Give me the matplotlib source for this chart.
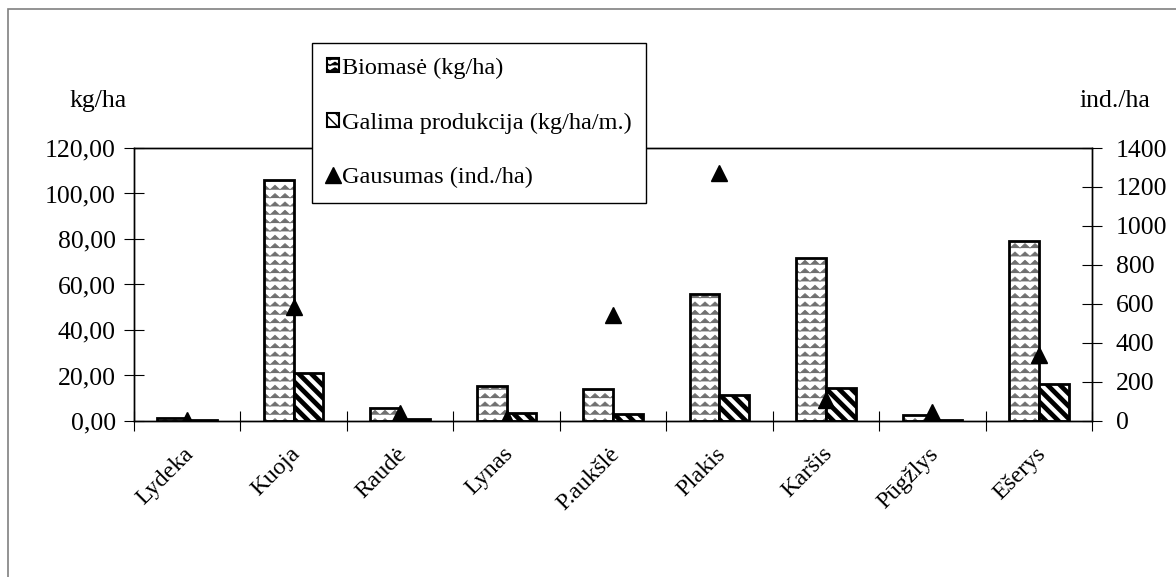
import warnings
import numpy as np
import matplotlib
matplotlib.use("Agg")
import matplotlib.pyplot as plt
import matplotlib.hatch as mhatch
import matplotlib.transforms as mtransforms
from matplotlib.path import Path
from matplotlib.patches import Patch, Rectangle
from matplotlib.lines import Line2D
from matplotlib.ticker import FuncFormatter, MultipleLocator

warnings.filterwarnings("ignore")

# duomenys
zuvys = ["Lydeka", "Kuoja", "Raudė", "Lynas", "P.aukšlė", "Plakis", "Karšis", "Pūgžlys", "Ešerys"]
biomase = [1.5, 106.0, 5.8, 15.4, 14.2, 55.7, 71.5, 2.5, 79.3]
produkcija = [0.3, 21.2, 1.0, 3.4, 2.9, 11.3, 14.4, 0.4, 16.1]
gausumas = [6, 586, 41, 17, 544, 1270, 108, 48, 338]
legend_labels = ["Biomasė (kg/ha)", "Galima produkcija (kg/ha/m.)", "Gausumas (ind./ha)"]


# wavy hatch like the excel pattern, drawn with '~'
class WaveHatch(mhatch.HatchPatternBase):
    def __init__(self, hatch, density):
        self.num_rows = int(hatch.count('~') * density)
        self.num_waves = 10
        self.pts = 2 * self.num_waves + 1
        self.num_vertices = self.num_rows * self.pts

    def set_vertices_and_codes(self, vertices, codes):
        rows = np.linspace(0, 1, self.num_rows, endpoint=False) + 0.5 / self.num_rows
        xs = np.linspace(0, 1, self.pts)
        amp = 0.27 / self.num_rows
        offs = np.where(np.arange(self.pts) % 2 == 0, -amp, amp)
        for i, y in enumerate(rows):
            s = i * self.pts
            vertices[s:s + self.pts, 0] = xs
            vertices[s:s + self.pts, 1] = y + offs
            codes[s:s + self.pts] = Path.LINETO
            codes[s] = Path.MOVETO


# thick "\" stripes, a bit denser than the built-in one, drawn with 'd'
class StripeHatch(mhatch.HatchPatternBase):
    def __init__(self, hatch, density):
        self.num_lines = int(hatch.count('d') * 16)
        self.num_vertices = (self.num_lines + 1) * 2 if self.num_lines else 0

    def set_vertices_and_codes(self, vertices, codes):
        steps = np.linspace(-0.5, 0.5, self.num_lines + 1)
        vertices[0::2, 0] = steps
        vertices[0::2, 1] = 1.0 + steps
        vertices[1::2, 0] = 1.0 + steps
        vertices[1::2, 1] = steps
        codes[0::2] = Path.MOVETO
        codes[1::2] = Path.LINETO


mhatch._hatch_types.append(WaveHatch)
mhatch._hatch_types.append(StripeHatch)

plt.rcParams['font.family'] = ['Liberation Serif', 'DejaVu Serif']
plt.rcParams['font.size'] = 17.5

fig = plt.figure(figsize=(11.76, 5.77), dpi=100)
ax = fig.add_axes([0.1139, 0.2704, 0.8147, 0.4731])
ax2 = ax.twinx()

x = np.arange(len(zuvys))
w = 0.28

plt.rcParams['hatch.linewidth'] = 0.55
ax.bar(x - w / 2, biomase, w, color='white', edgecolor='#707070', linewidth=0, hatch='~~')
ax.bar(x - w / 2, biomase, w, fill=False, edgecolor='black', linewidth=2)
plt.rcParams['hatch.linewidth'] = 3.4
prod = ax.bar(x + w / 2, produkcija, w, color='white', edgecolor='black', linewidth=2, hatch='d')
for p in prod:
    if hasattr(p, 'set_hatch_linewidth'):
        p.set_hatch_linewidth(3.4)

ax2.plot(x, gausumas, linestyle='none', marker='^', color='black', markersize=12)

ax.set_xlim(-0.5, len(zuvys) - 0.5)
ax.set_ylim(0, 120)
ax2.set_ylim(0, 1400)

ax.set_xticks(np.arange(-0.5, len(zuvys), 1))
ax.set_xticks(x, minor=True)
ax.set_xticklabels(zuvys, minor=True, rotation=45, ha='right', rotation_mode='anchor')
ax.tick_params(axis='x', which='major', direction='inout', length=14, labelbottom=False)
ax.tick_params(axis='x', which='minor', length=0, pad=16)
shift = mtransforms.ScaledTranslation(-4 / 100, 0, fig.dpi_scale_trans)
for lab in ax.get_xticklabels(minor=True):
    lab.set_transform(lab.get_transform() + shift)

ax.yaxis.set_major_locator(MultipleLocator(20))
ax.yaxis.set_major_formatter(FuncFormatter(lambda v, pos: f"{v:.2f}".replace('.', ',')))
ax.tick_params(axis='y', direction='inout', length=14, pad=6, labelsize=18.5)
ax2.yaxis.set_major_locator(MultipleLocator(200))
ax2.tick_params(axis='y', direction='inout', length=14, pad=10, labelsize=18.5)

for a in (ax, ax2):
    for sp in a.spines.values():
        sp.set_linewidth(1)
        sp.set_color('black')

fig.text(70 / 1176, 1 - 101 / 577, "kg/ha", ha='left', va='center', fontsize=18.5)
fig.text(1079 / 1176, 1 - 101 / 577, "ind./ha", ha='left', va='center', fontsize=18.5)

fig.patches.append(Rectangle((8 / 1176, -0.1), 1.2, 1.1 - 9 / 577, transform=fig.transFigure,
                             fill=False, edgecolor='#808080', linewidth=1.2, figure=fig))

plt.rcParams['hatch.linewidth'] = 1.0
handles = [Patch(facecolor='white', edgecolor='black', linewidth=1.5, hatch='~~~'),
           Patch(facecolor='white', edgecolor='black', linewidth=1.5, hatch='\\\\\\'),
           Line2D([], [], linestyle='none', marker='^', color='black', markersize=12)]
leg = fig.legend(handles, legend_labels, loc='upper left', bbox_to_anchor=(312 / 1176, 1 - 43 / 577),
                 fancybox=False, edgecolor='black', framealpha=1, borderpad=0.6, labelspacing=1.38,
                 handlelength=0.5, handleheight=0.5, handletextpad=0.12, borderaxespad=0)
leg.get_frame().set_linewidth(1)

fig.savefig("out.png", dpi=100)
